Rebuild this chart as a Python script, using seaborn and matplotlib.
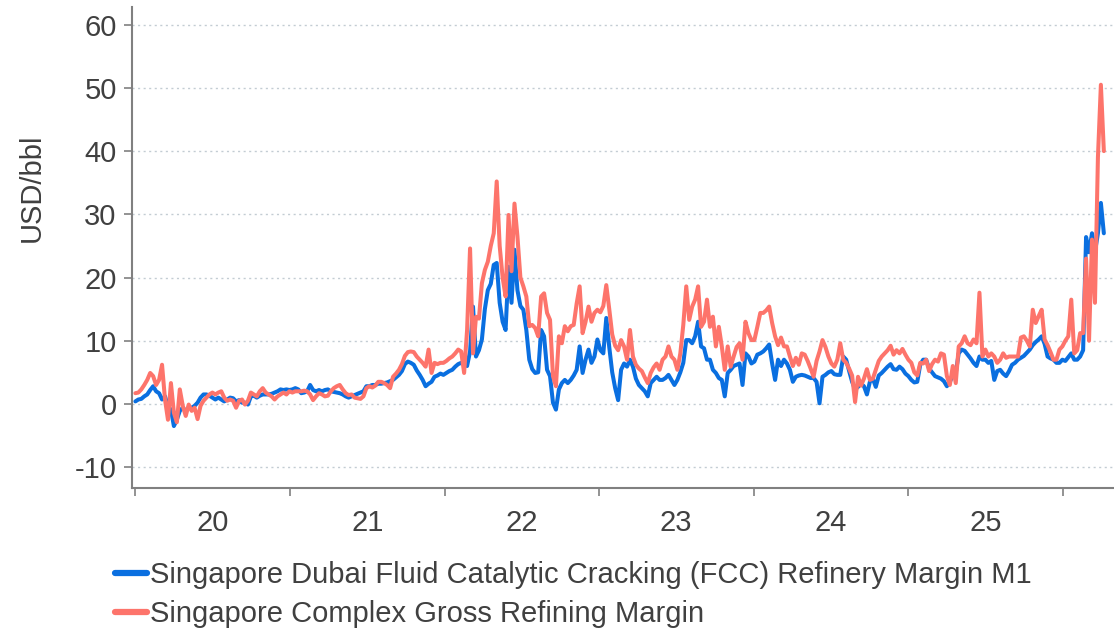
import matplotlib
matplotlib.use("Agg")
import matplotlib.pyplot as plt
import matplotlib.dates as mdates
from matplotlib.lines import Line2D
import seaborn as sns
import pandas as pd

# ---------------- data (weekly) ----------------
start_date = "2020-01-01"

fcc_margin = [
    0.4, 0.7, 0.8, 1.2, 1.5, 2.2, 2.8, 2.0, 1.7, 0.7, 1.2, -0.4, -0.9,
    -3.5, -2.5, -1.1, -0.6, -1.1, -0.6, -0.6, -0.3, 0.2, 1.0, 1.5, 1.5, 1.3,
    1.0, 0.7, 1.0, 0.7, 0.4, 0.7, 1.0, 0.9, 0.4, 0.6, 0.2, 0.2, -0.1,
    1.2, 1.3, 1.0, 1.3, 1.5, 1.5, 1.5, 1.6, 1.8, 2.0, 2.3, 2.2, 2.3,
    2.2, 2.3, 2.5, 2.3, 1.7, 1.8, 2.0, 3.0, 2.2, 2.0, 2.2, 2.0, 2.2,
    2.3, 2.0, 1.9, 1.8, 1.7, 1.5, 1.2, 1.0, 1.2, 1.4, 1.6, 1.8, 2.0,
    2.8, 2.8, 3.0, 3.0, 3.2, 3.2, 3.3, 3.4, 3.6, 3.8, 4.2, 4.6, 5.2,
    6.3, 6.7, 6.5, 6.2, 5.3, 4.6, 3.8, 2.8, 3.2, 3.5, 4.3, 4.5, 4.8,
    4.6, 4.9, 5.2, 5.4, 5.9, 6.3, 6.5, 6.5, 6.0, 8.3, 15.4, 7.5, 8.5,
    10.2, 15.0, 18.0, 19.0, 22.0, 22.3, 16.0, 13.0, 11.7, 21.7, 16.0, 24.4, 18.0, 15.5,
    14.9, 11.7, 7.0, 5.5, 4.9, 5.0, 11.7, 10.7, 5.4, 4.4, 0.2, -0.9, 2.3,
    3.3, 3.8, 3.3, 3.8, 4.5, 5.4, 9.1, 4.9, 7.0, 8.6, 6.5, 7.5, 10.2,
    8.5, 8.0, 13.6, 9.0, 5.0, 2.5, 0.6, 5.4, 6.4, 5.9, 7.0, 5.9,
    4.0, 3.0, 2.5, 2.0, 1.2, 3.3, 3.8, 4.3, 3.8, 3.8, 4.1, 4.6, 3.8,
    3.0, 3.8, 5.0, 6.5, 10.1, 10.1, 9.6, 10.7, 13.0, 9.1, 8.8, 7.0, 7.0,
    5.4, 4.9, 4.1, 3.8, 1.2, 4.9, 5.4, 6.0, 6.2, 6.4, 3.0, 8.0, 7.5,
    6.4, 6.7, 7.8, 8.0, 8.3, 8.8, 9.4, 6.4, 3.8, 7.0,
    6.0, 7.0, 6.4, 5.4, 3.5, 4.3, 4.5, 4.6, 4.5, 4.3, 4.1, 4.1, 3.5,
    0.1, 4.3, 4.6, 5.0, 5.2, 4.7, 4.6, 4.6, 7.5, 7.0, 5.2, 3.5, 2.3,
    2.7, 3.2, 2.8, 1.5, 3.5, 4.0, 2.7, 4.5, 4.9, 5.4, 5.9, 6.3, 5.5,
    5.4, 5.9, 5.5, 4.8, 4.4, 3.8, 3.4, 3.5, 6.2, 7.0, 7.0, 5.6, 5.0,
    4.4, 4.2, 4.0, 3.6, 2.8, 3.5, 4.5, 4.9, 8.0, 8.6, 8.4, 7.8, 7.2,
    6.5, 6.0, 7.5, 7.0, 7.0, 6.5, 6.8, 3.8, 5.2, 5.4, 4.8, 4.4, 5.2,
    6.2, 6.5, 7.0, 7.3, 7.6, 8.1, 8.6, 9.3, 9.8, 10.2, 10.7, 9.5, 7.5,
    7.2, 7.0, 6.5, 6.5, 7.0, 6.8, 7.4, 8.0, 7.0, 7.0, 7.5, 8.5,
    26.4, 24.0, 27.0, 24.0, 27.0, 31.8, 27.0,
]

complex_margin = [
    1.7, 1.8, 2.3, 3.0, 3.8, 4.9, 4.4, 3.0, 3.8, 6.2, 0.7, -2.5, 3.3,
    -1.4, -2.9, 2.3, -0.3, -1.9, -0.1, -1.1, -0.6, -2.4, -0.3, 0.5, 1.0, 1.5,
    1.8, 1.5, 1.8, 2.0, 1.0, 0.5, 0.7, 0.5, -0.6, 0.5, 0.7, -0.1, 0.5,
    1.8, 1.5, 1.2, 2.0, 2.5, 1.8, 1.5, 1.2, 0.7, 1.2, 1.5, 1.8, 1.5,
    2.0, 1.8, 2.0, 2.0, 2.0, 2.1, 2.0, 1.5, 0.6, 1.2, 1.7, 1.5, 1.2,
    1.3, 2.0, 2.5, 2.8, 3.0, 2.3, 1.7, 1.4, 1.5, 1.0, 0.9, 0.8, 1.2,
    2.5, 2.8, 2.6, 2.9, 3.5, 3.5, 3.3, 3.0, 2.5, 4.3, 4.8, 5.4, 6.3,
    7.6, 8.2, 8.3, 8.2, 7.5, 7.0, 6.5, 5.9, 8.6, 4.9, 6.5, 6.3, 6.5,
    6.5, 6.8, 7.2, 7.5, 8.0, 8.6, 8.3, 4.9, 11.7, 24.6, 8.0, 13.8, 13.5,
    19.1, 21.2, 22.5, 25.0, 27.0, 35.2, 25.0, 20.0, 17.0, 29.9, 21.0, 31.7, 26.5, 20.0,
    18.6, 17.0, 12.3, 12.5, 12.0, 10.7, 17.0, 17.5, 14.4, 13.3, 4.4, 2.8, 10.7,
    9.6, 12.3, 11.5, 12.3, 12.5, 15.9, 18.6, 11.2, 13.0, 15.4, 13.0, 14.4, 14.9,
    14.5, 15.5, 18.8, 15.0, 11.0, 9.2, 8.5, 10.1, 9.1, 7.0, 11.7, 7.5,
    6.2, 5.6, 5.2, 4.2, 3.3, 4.9, 5.8, 6.4, 5.4, 7.0, 7.5, 9.1, 7.5,
    7.0, 5.4, 8.0, 12.5, 18.6, 13.3, 15.4, 16.5, 18.6, 12.2, 13.0, 16.5, 12.2,
    13.8, 9.1, 12.2, 9.1, 5.4, 9.1, 5.9, 7.5, 9.0, 9.6, 7.0, 13.0, 11.2,
    10.1, 10.1, 12.2, 14.4, 14.4, 14.8, 15.4, 12.8, 10.7, 9.3,
    10.5, 9.1, 9.1, 7.5, 6.0, 7.3, 6.2, 8.0, 7.8, 6.8, 5.6, 4.3, 6.8,
    8.3, 10.1, 9.0, 7.5, 6.4, 5.9, 7.0, 9.6, 7.0, 6.5, 5.6, 4.5, 0.3,
    4.3, 2.9, 4.0, 5.5, 3.8, 4.0, 5.4, 6.8, 7.5, 8.0, 8.5, 9.2, 7.8,
    8.5, 8.0, 8.7, 7.8, 7.0, 6.5, 5.0, 4.5, 6.5, 6.4, 7.0, 5.2, 6.3,
    7.0, 6.7, 8.0, 7.8, 4.4, 3.0, 6.0, 3.3, 9.1, 9.6, 10.7, 9.6, 9.3,
    10.2, 9.6, 17.6, 7.5, 8.6, 7.5, 8.0, 7.5, 6.5, 7.0, 8.0, 7.3, 7.5,
    7.5, 7.5, 7.5, 10.5, 10.7, 10.0, 9.1, 14.9, 12.8, 13.9, 14.9, 10.2, 9.3,
    8.2, 7.0, 7.0, 8.6, 9.1, 10.0, 10.7, 16.5, 8.0, 8.5, 11.2, 11.2,
    23.0, 10.0, 26.0, 16.0, 39.0, 50.5, 40.0,
]

series_names = [
    "Singapore Dubai Fluid Catalytic Cracking (FCC) Refinery Margin M1",
    "Singapore Complex Gross Refining Margin",
]
series_colors = ["#0a6fe0", "#fd746b"]
year_labels = ["20", "21", "22", "23", "24", "25"]
year_bounds = [2020, 2021, 2022, 2023, 2024, 2025, 2026]
y_ticks = [-10, 0, 10, 20, 30, 40, 50, 60]
y_label = "USD/bbl"

# ---------------- build table ----------------
dates_a = pd.date_range(start_date, periods=len(fcc_margin), freq="7D")
dates_b = pd.date_range(start_date, periods=len(complex_margin), freq="7D")
df = pd.concat([
    pd.DataFrame({"date": dates_a, "value": fcc_margin, "series": series_names[0]}),
    pd.DataFrame({"date": dates_b, "value": complex_margin, "series": series_names[1]}),
], ignore_index=True)

# ---------------- style ----------------
sns.set_theme(style="white")
plt.rcParams["font.family"] = ["Liberation Sans", "DejaVu Sans"]
text_color = "#404040"
spine_color = "#808080"
fs = 21

fig = plt.figure(figsize=(11.14, 6.29), dpi=100)
ax = fig.add_axes([132 / 1114, 1 - 488 / 629, 1 - 132 / 1114, (488 - 7) / 629])

sns.lineplot(
    data=df, x="date", y="value", hue="series",
    hue_order=series_names,
    palette=dict(zip(series_names, series_colors)),
    linewidth=2.9, ax=ax, legend=False,
)

# axes limits
ax.set_xlim(pd.Timestamp("2019-12-24"), pd.Timestamp("2026-05-02"))
ax.set_ylim(-13.3, 62.8)

# y axis
ax.set_yticks(y_ticks)
ax.set_yticklabels([str(v) for v in y_ticks])
ax.yaxis.grid(True, linestyle=(0, (1.5, 2.5)), color="#c3ccd3", linewidth=1.0)
ax.xaxis.grid(False)
ax.set_axisbelow(True)
ax.set_ylabel(y_label, fontsize=fs, color=text_color)
ax.yaxis.set_label_coords(-0.088, 0.625)

# x axis: year boundaries as major ticks, labels at mid-year
major = [mdates.date2num(pd.Timestamp(f"{y}-01-01")) for y in year_bounds]
minor = [mdates.date2num(pd.Timestamp(f"{y}-07-02")) for y in year_bounds[:-1]]
ax.set_xticks(major)
ax.set_xticklabels([""] * len(major))
ax.set_xticks(minor, minor=True)
ax.set_xticklabels(year_labels, minor=True)
ax.set_xlabel("")

ax.tick_params(axis="x", which="major", length=6, width=1.2, color=spine_color, direction="out")
ax.tick_params(axis="x", which="minor", length=0, pad=15, labelsize=fs, labelcolor=text_color)
ax.tick_params(axis="y", which="major", length=6, width=1.2, color=spine_color, direction="out",
               pad=5, labelsize=fs, labelcolor=text_color)
ax.tick_params(bottom=True, left=True)

for side in ["top", "right"]:
    ax.spines[side].set_visible(False)
for side in ["left", "bottom"]:
    ax.spines[side].set_color(spine_color)
    ax.spines[side].set_linewidth(1.5)

# legend below
handles = [Line2D([0], [0], color=c, linewidth=4.5) for c in series_colors]
fig.legend(
    handles, series_names, loc="upper left",
    bbox_to_anchor=(115 / 1114, 1 - 561 / 629),
    frameon=False, fontsize=fs, labelcolor=text_color,
    handlelength=1.1, handletextpad=0.1, labelspacing=0.38, borderpad=0,
    borderaxespad=0,
)

fig.savefig("out.png", dpi=100)
